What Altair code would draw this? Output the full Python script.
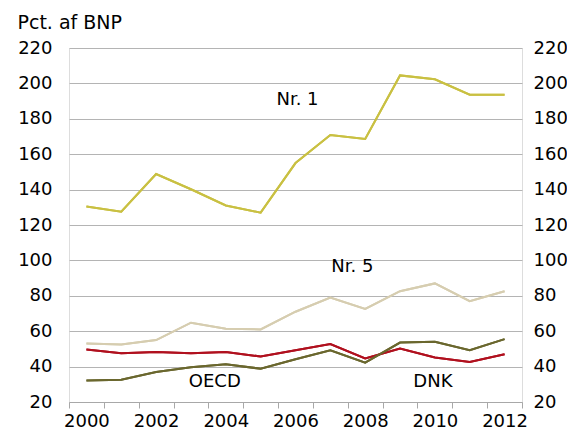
import altair as alt
import pandas as pd

years = list(range(2000, 2013))
series_names = ["Nr. 1", "Nr. 5", "Rød", "Oliven"]
nr1 = [130.5, 127.5, 148.8, 140.2, 131.0, 127.0, 155.0, 170.8, 168.6, 204.5, 202.3, 193.6, 193.6]
nr5 = [53.0, 52.5, 55.0, 64.8, 61.4, 61.0, 71.0, 79.0, 72.6, 82.6, 87.0, 77.0, 82.6]
red = [49.6, 47.6, 48.3, 47.6, 48.3, 45.7, 49.2, 52.7, 44.6, 50.2, 45.2, 42.6, 47.0]
olive = [32.2, 32.6, 37.0, 39.6, 41.3, 38.8, 44.2, 49.2, 42.2, 53.6, 54.0, 49.2, 55.5]
colors = ["#c9c042", "#d6cdb0", "#b0101e", "#6a672e"]

label_texts = ["Nr. 1", "Nr. 5", "OECD", "DNK"]
label_years = [2006, 2007, 2004, 2010]
label_values = [190.6, 96.4, 31.3, 31.2]
label_dx = [2, 22, -11, -2]

rows = []
for name, vals in zip(series_names, [nr1, nr5, red, olive]):
    for y, v in zip(years, vals):
        rows.append({"year": y, "value": v, "series": name})
df = pd.DataFrame(rows)

FONT = "DejaVu Sans"

x_enc = alt.X(
    "year:O",
    scale=alt.Scale(type="band", paddingInner=0, paddingOuter=0),
    axis=alt.Axis(
        title=None,
        tickBand="extent",
        labelAngle=0,
        labelExpr="toNumber(datum.value) % 2 == 0 ? datum.label : ''",
        labelFontSize=18,
        labelFont=FONT,
        labelColor="#000000",
        labelPadding=4,
        tickSize=6,
        tickColor="#a8a8a8",
        domainColor="#a8a8a8",
        grid=False,
    ),
    bandPosition=0.5,
)

y_scale = alt.Scale(domain=[20, 220], nice=False, zero=False)
y_values = list(range(20, 221, 20))

lines = alt.Chart(df).mark_line(strokeWidth=2).encode(
    x=x_enc,
    y=alt.Y(
        "value:Q",
        scale=y_scale,
        axis=alt.Axis(
            values=y_values,
            orient="left",
            domain=False,
            ticks=False,
            labelPadding=17,
            labelFontSize=18,
            labelFont=FONT,
            labelColor="#000000",
            grid=True,
            gridColor="#b4b4b4",
            gridWidth=1,
            title="Pct. af BNP",
            titleAngle=0,
            titleAlign="left",
            titleBaseline="alphabetic",
            titleX=-52,
            titleY=-20,
            titleFontSize=19,
            titleFont=FONT,
            titleFontWeight="normal",
            titleColor="#000000",
        ),
    ),
    color=alt.Color("series:N", scale=alt.Scale(domain=series_names, range=colors), legend=None),
    detail="series:N",
)

right_axis = alt.Chart(df).mark_line(strokeWidth=2).encode(
    x=x_enc,
    y=alt.Y(
        "value:Q",
        scale=y_scale,
        axis=alt.Axis(
            values=y_values,
            orient="right",
            domain=False,
            ticks=False,
            labelPadding=11,
            labelFontSize=18,
            labelFont=FONT,
            labelColor="#000000",
            grid=False,
            title=None,
        ),
    ),
    color=alt.Color("series:N", scale=alt.Scale(domain=series_names, range=colors), legend=None),
    detail="series:N",
)

text_layers = []
for t, yr, v, dx in zip(label_texts, label_years, label_values, label_dx):
    ldf = pd.DataFrame({"year": [yr], "value": [v], "label": [t]})
    text_layers.append(
        alt.Chart(ldf).mark_text(
            fontSize=18, font=FONT, color="#000000", align="center", baseline="middle", dx=dx
        ).encode(
            x=x_enc,
            y=alt.Y("value:Q", scale=y_scale, axis=None),
            text="label:N",
        )
    )

chart = alt.layer(lines, right_axis, *text_layers).resolve_axis(y="independent").properties(
    width=453,
    height=354,
    padding={"left": 61, "top": 40, "right": 45, "bottom": 30},
    autosize=alt.AutoSizeParams(type="none"),
).configure_view(strokeWidth=0, strokeOpacity=0).configure(background="#ffffff")

chart.save("out.html", embed_options={"renderer": "svg", "actions": False})
